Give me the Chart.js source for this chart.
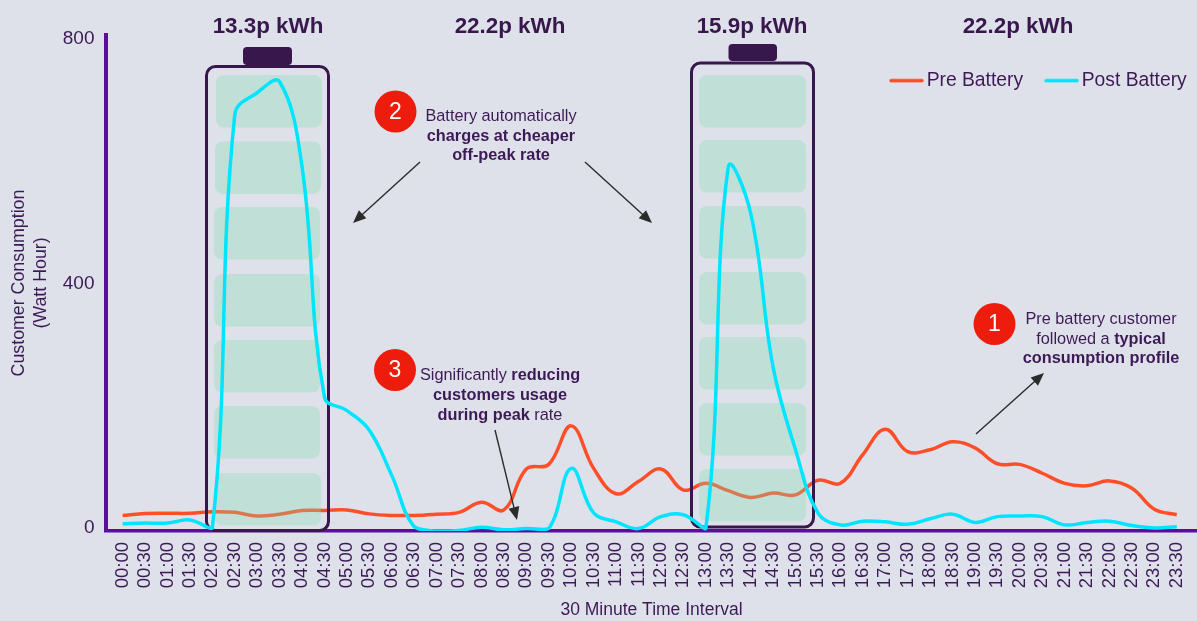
<!DOCTYPE html>
<html><head><meta charset="utf-8">
<style>html,body{margin:0;padding:0;background:#dfe1ea;overflow:hidden}#w{width:1197px;height:621px;position:relative}</style>
<script src="https://cdn.jsdelivr.net/npm/chart.js@4/dist/chart.umd.min.js"></script>
</head><body><div id="w"><canvas id="c"></canvas></div>
<script>
const timeLabels = ["00:00","00:30","01:00","01:30","02:00","02:30","03:00","03:30","04:00","04:30","05:00","05:30","06:00","06:30","07:00","07:30","08:00","08:30","09:00","09:30","10:00","10:30","11:00","11:30","12:00","12:30","13:00","13:30","14:00","14:30","15:00","15:30","16:00","16:30","17:00","17:30","18:00","18:30","19:00","19:30","20:00","20:30","21:00","21:30","22:00","22:30","23:00","23:30"];
const preBattery = [20.5,23.5,24,24,26.5,25.5,19.5,22.5,28.5,28.5,29.5,23,20.5,20.5,22.5,25.5,42,29.5,96.5,104,167,97.5,56,76,96.5,62,73,61,50,57,54,78,73,120,161.5,125,128,141,131,105,104,89.5,73,69,77,65,30.5,21.5];
const postBattery = [7,8,8,13,0,676,712,730,591,214,192,160,86,2,-5,-4,1,-3,-1,-1,97.5,24.5,10,-1,18.5,21.5,-1,590,515,263,128,24.5,5,11,10,6,15,22.5,9,18.5,19.5,18.5,5,9,11,4,0,2];
const yTicks = [0,400,800];
const tariffs = ["13.3p kWh","22.2p kWh","15.9p kWh","22.2p kWh"];

const INK='#3c1a56', FRAME='#38174d', FONT='"Liberation Sans",Arial,sans-serif';

function swatch(col){
  const c=document.createElement('canvas');c.width=35;c.height=5;
  const g=c.getContext('2d');g.strokeStyle=col;g.lineWidth=3.5;g.lineCap='round';
  g.beginPath();g.moveTo(2,2.5);g.lineTo(33,2.5);g.stroke();return c;
}
function rr(ctx,x,y,w,h,r){ctx.beginPath();ctx.roundRect(x,y,w,h,r);}

const batteries=[
 {frame:[206.5,66.5,122,464],cap:[243,47,49,18],cellX:[216,215,214,214,214,214,215],cellW:106,rows:[75,141.5,207,274,340,406,473]},
 {frame:[691.5,63,122,464],cap:[728.5,44,48.5,17],cellX:[699,699,699,699,699,699,699],cellW:107,rows:[75,140,206,272,337,403,469]}
];
const batteryPlugin={id:'batteries',afterDatasetDraw(chart,args){
  if(args.index!==0)return;
  const ctx=chart.ctx;ctx.save();
  batteries.forEach(b=>{
    ctx.fillStyle='rgba(123,222,173,0.3)';
    b.rows.forEach((y,i)=>{rr(ctx,b.cellX[i],y,b.cellW,52.5,8);ctx.fill();});
    ctx.strokeStyle=FRAME;ctx.lineWidth=3;
    rr(ctx,b.frame[0],b.frame[1],b.frame[2],b.frame[3],9);ctx.stroke();
    ctx.fillStyle=FRAME;rr(ctx,b.cap[0],b.cap[1],b.cap[2],b.cap[3],4);ctx.fill();
  });
  ctx.restore();
}};
function runs(ctx,cx,y,parts,size){
  let tot=0;
  parts.forEach(p=>{ctx.font=(p[1]?'bold ':'')+size+'px '+FONT;tot+=ctx.measureText(p[0]).width;});
  let x=cx-tot/2;ctx.textAlign='left';ctx.textBaseline='middle';
  parts.forEach(p=>{ctx.font=(p[1]?'bold ':'')+size+'px '+FONT;ctx.fillText(p[0],x,y);x+=ctx.measureText(p[0]).width;});
}
function arrow(ctx,x1,y1,x2,y2){
  const a=Math.atan2(y2-y1,x2-x1),L=13,W=5.5;
  ctx.strokeStyle='#2b2b2b';ctx.fillStyle='#2b2b2b';ctx.lineWidth=1.4;
  ctx.beginPath();ctx.moveTo(x1,y1);ctx.lineTo(x2-Math.cos(a)*L*.8,y2-Math.sin(a)*L*.8);ctx.stroke();
  ctx.beginPath();ctx.moveTo(x2,y2);
  ctx.lineTo(x2-L*Math.cos(a)+W*Math.sin(a),y2-L*Math.sin(a)-W*Math.cos(a));
  ctx.lineTo(x2-L*Math.cos(a)-W*Math.sin(a),y2-L*Math.sin(a)+W*Math.cos(a));
  ctx.closePath();ctx.fill();
}
function badge(ctx,x,y,n){
  ctx.fillStyle='#ee1c0c';ctx.beginPath();ctx.arc(x,y,21,0,Math.PI*2);ctx.fill();
  ctx.fillStyle='#fff';ctx.font='23px '+FONT;ctx.textAlign='center';ctx.textBaseline='middle';ctx.fillText(n,x,y+1);
}
const notesPlugin={id:'notes',
 beforeLayout(chart){const l=chart.legend;if(l&&!l._fitPatched){const f=l.fit;l.fit=function(){f.call(this);this.height=35;};l._fitPatched=true;}},
 afterLayout(chart){const l=chart.legend;if(l){l.right=1218;l.lineWidths[0]=322;l.top=81-28-10;l.bottom=l.top+60;}},
 afterDraw(chart){
  const ctx=chart.ctx;ctx.save();
  ctx.fillStyle=FRAME;ctx.font='bold 22.4px '+FONT;ctx.textAlign='center';ctx.textBaseline='middle';
  [268,510,752,1018].forEach((x,i)=>ctx.fillText(tariffs[i],x,27));
  arrow(ctx,420,162,353,223);arrow(ctx,585,162,652,223);arrow(ctx,495,430,517,520);arrow(ctx,976,434,1044,373);
  badge(ctx,395.5,111.5,'2');badge(ctx,395,370,'3');badge(ctx,994.5,324,'1');
  ctx.fillStyle=INK;
  runs(ctx,501,117,[["Battery automatically",0]],16.3);
  runs(ctx,501,136.5,[["charges at cheaper",1]],16.3);
  runs(ctx,501,156,[["off-peak rate",1]],16.3);
  runs(ctx,500,376,[["Significantly ",0],["reducing",1]],16.3);
  runs(ctx,500,396,[["customers usage",1]],16.3);
  runs(ctx,500,415.5,[["during peak ",1],["rate",0]],16.3);
  runs(ctx,1101,320,[["Pre battery customer",0]],16.3);
  runs(ctx,1101,339.5,[["followed a ",0],["typical",1]],16.3);
  runs(ctx,1101,359,[["consumption profile",1]],16.3);
  ctx.restore();
}};

new Chart(document.getElementById('c'),{
 type:'line',
 data:{datasets:[
  {label:'Pre Battery',data:preBattery.map((v,i)=>({x:i,y:v})),borderColor:'#ff4f28',backgroundColor:'#ff4f28',borderWidth:3.5,pointRadius:0,tension:0.4,order:2,pointStyle:swatch('#ff4f28')},
  {label:'Post Battery',data:postBattery.map((v,i)=>({x:i,y:v})),borderColor:'#00e5ff',backgroundColor:'#00e5ff',borderWidth:3.5,pointRadius:0,tension:0.4,order:1,pointStyle:swatch('#00e5ff')}
 ]},
 options:{
  responsive:true,maintainAspectRatio:false,animation:false,devicePixelRatio:1,
  layout:{padding:0},
  plugins:{
   tooltip:{enabled:false},
   legend:{position:'top',align:'end',labels:{usePointStyle:true,pointStyleWidth:21,padding:28,color:INK,font:{family:FONT,size:19.3},sort:(a,b)=>a.datasetIndex-b.datasetIndex}}
  },
  scales:{
   x:{type:'linear',min:-0.74,max:47.9,
    afterBuildTicks(s){s.ticks=timeLabels.map((_,i)=>({value:i}));},
    afterFit(s){s.height=90;s.paddingLeft=0;s.paddingRight=0;},
    grid:{display:false,drawTicks:false},
    border:{display:true,color:'#5a0e9c',width:3.5},
    ticks:{autoSkip:false,minRotation:90,maxRotation:90,padding:11,color:INK,font:{family:FONT,size:18.5},callback:v=>timeLabels[v]},
    title:{display:true,text:'30 Minute Time Interval',color:INK,font:{family:FONT,size:17.5},padding:{top:0,bottom:0}}
   },
   y:{type:'linear',min:-5,max:806.5,
    afterBuildTicks(s){s.ticks=yTicks.map(v=>({value:v}));},
    afterFit(s){s.width=106;s.paddingTop=0;s.paddingBottom=0;},
    grid:{display:false,drawTicks:false},
    border:{display:true,color:'#5a0e9c',width:4},
    ticks:{padding:11.5,color:INK,font:{family:FONT,size:19}},
    title:{display:true,text:['Customer Consumption','(Watt Hour)'],color:INK,font:{family:FONT,size:17.8,lineHeight:1.25},padding:{top:8,bottom:0}}
   }
  }
 },
 plugins:[batteryPlugin,notesPlugin]
});
</script></body></html>
